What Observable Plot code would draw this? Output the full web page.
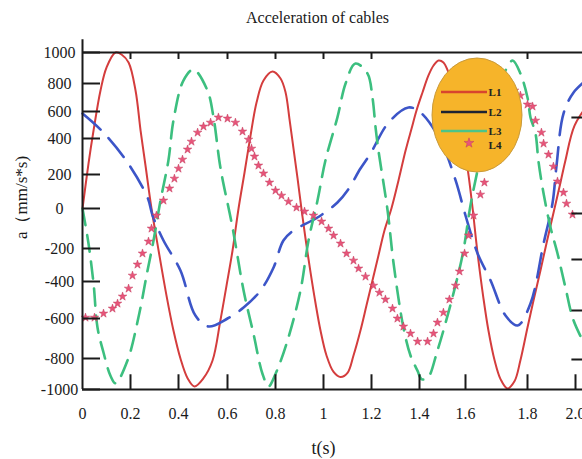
<!DOCTYPE html>
<html><head><meta charset="utf-8">
<script src="https://cdn.jsdelivr.net/npm/d3@7"></script>
<script src="https://cdn.jsdelivr.net/npm/@observablehq/plot@0.6"></script>
<style>body{margin:0;background:#fff} svg{display:block}</style>
</head><body><div id="chart"></div>
<script>
const title = "Acceleration of cables";
const xLabel = "t(s)";
const yLabel = "a（mm/s*s)";
const xTicks = [0, 0.2, 0.4, 0.6, 0.8, 1, 1.2, 1.4, 1.6, 1.8, 2.0];
const xTickLabels = ["0", "0.2", "0.4", "0.6", "0.8", "1", "1.2", "1.4", "1.6", "1.8", "2.0"];
const yTicks = [-1000, -800, -600, -400, -200, 0, 200, 400, 600, 800, 1000];
const topTicks = [0.2, 0.4, 0.6, 0.8, 1, 1.2, 1.8];
const rightTicks = [556, -25, -267, -557, -807];
const seriesNames = ["L1", "L2", "L3", "L4"];
const seriesColors = ["#d43d3d", "#3c55c8", "#3cbf7f", "#e8557a"];
const legendLineColors = ["#d8452e", "#1c2233", "#4cc488"];

const L1_t = [0,0.025,0.046,0.075,0.1,0.1375,0.1625,0.192,0.221,0.242,0.2625,0.2875,0.317,0.35,0.379,0.408,0.437,0.465,0.502,0.539,0.571,0.596,0.621,0.646,0.671,0.696,0.721,0.75,0.7875,0.821,0.842,0.858,0.875,0.892,0.908,0.925,0.946,0.967,0.9875,1.0125,1.042,1.071,1.1,1.125,1.154,1.179,1.204,1.229,1.254,1.283,1.3125,1.342,1.367,1.3875,1.413,1.439,1.461,1.483,1.504,1.526,1.548,1.57,1.591,1.61,1.623,1.639,1.658,1.674,1.694,1.713,1.735,1.758,1.777,1.8,1.825,1.854,1.879,1.9125,1.9375,1.958,1.996,2.029];
const L1_a = [0,261,459,750,903,1000,987,935,750,459,250,0,-212,-476,-660,-800,-927,-980,-927,-813,-610,-422,-212,0,211,422,664,819,877,832,736,548,344,176,0,-150,-345,-519,-660,-785,-887,-920,-893,-785,-660,-530,-394,-242,-110,0,165,333,474,607,736,852,916,948,936,871,764,607,389,194,0,-230,-492,-660,-813,-933,-993,-947,-813,-645,-503,-333,-175,0,153,278,496,664];

const L2_t = [0,0.0875,0.1875,0.271,0.292,0.3375,0.408,0.469,0.522,0.6,0.667,0.7375,0.792,0.833,0.875,0.975,1.058,1.1,1.154,1.196,1.271,1.354,1.404,1.491,1.557,1.6,1.639,1.681,1.729,1.768,1.8125,1.867,1.904,1.921,1.95,1.992,2.029];
const L2_a = [585,444,267,65,-35,-160,-333,-584,-640,-600,-541,-449,-315,-160,-110,-45,35,106,233,317,518,629,593,389,165,-35,-230,-394,-584,-635,-519,-175,29,250,585,736,839];

const L3_t = [0,0.025,0.046,0.0625,0.0875,0.117,0.1375,0.1875,0.233,0.271,0.296,0.325,0.358,0.379,0.42,0.461,0.518,0.543,0.571,0.621,0.667,0.708,0.746,0.771,0.8,0.85,0.904,0.9375,0.975,1.008,1.058,1.092,1.133,1.183,1.204,1.217,1.229,1.267,1.292,1.333,1.3625,1.392,1.409,1.435,1.478,1.522,1.565,1.591,1.616,1.642,1.674,1.703,1.729,1.752,1.777,1.8,1.8125,1.833,1.846,1.867,1.896,1.925,1.958,1.992,2.029];
const L3_a = [0,-175,-411,-645,-770,-913,-960,-813,-595,-333,-160,47,278,533,819,890,750,556,239,-95,-449,-675,-900,-980,-900,-710,-449,-160,47,278,556,800,929,865,700,481,333,-10,-291,-645,-785,-880,-933,-927,-760,-584,-376,-212,18,250,570,786,884,948,865,700,556,440,270,88,-95,-230,-432,-610,-775];

const L4_t = [0.0125,0.05,0.0875,0.125,0.146,0.167,0.192,0.2083,0.229,0.25,0.275,0.2875,0.308,0.3375,0.3625,0.383,0.4,0.4163,0.437,0.453,0.478,0.502,0.531,0.563,0.6,0.633,0.6625,0.6875,0.7,0.7125,0.729,0.75,0.775,0.8,0.825,0.854,0.8875,0.921,0.958,0.992,1.021,1.042,1.071,1.096,1.125,1.146,1.175,1.208,1.233,1.258,1.2875,1.308,1.333,1.3625,1.392,1.435,1.461,1.478,1.504,1.53,1.557,1.574,1.596,1.61,1.626,1.648,1.661,1.681,1.7,1.719,1.739,1.758,1.777,1.8,1.821,1.833,1.858,1.867,1.8875,1.908,1.925,1.95,1.9625,1.9875];
const L4_a = [-595,-595,-573,-546,-519,-481,-438,-364,-297,-230,-165,-100,-35,47,118,176,233,283,339,383,444,489,518,556,548,518,452,394,344,300,250,206,153,106,76,41,6,-15,-35,-65,-100,-135,-175,-230,-273,-321,-370,-422,-460,-497,-546,-600,-640,-675,-715,-715,-675,-620,-568,-497,-422,-339,-230,-135,-35,82,153,267,400,570,700,750,714,650,636,533,444,372,311,244,159,94,29,-30];

const rows = (ts, as) => ts.map((t, i) => ({t, a: as[i]}));
const d1 = rows(L1_t, L1_a), d2 = rows(L2_t, L2_a), d3r = rows(L3_t, L3_a), d4 = rows(L4_t, L4_a);
const xLabelRows = xTicks.map((v, i) => ({v, label: xTickLabels[i]}));

const font = "'Liberation Serif','Times New Roman',serif";
const ink = "#1a1a1a";

const chart = Plot.plot({
  width: 582, height: 459,
  margin: 0,
  style: {fontFamily: font, background: "#fff", overflow: "hidden", color: ink},
  x: {type: "linear", axis: null,
      domain: [0, 0.2, 0.4, 0.6, 0.8, 1, 1.2, 1.4, 1.6, 1.8, 2.0, 2.1],
      range: [82, 130, 178, 227, 275, 323, 371, 419, 465, 527, 575, 623]},
  y: {type: "linear", axis: null,
      domain: [-1000, -800, -600, -400, -200, 0, 200, 400, 600, 800, 1000, 1100],
      range: [389, 358, 318, 281, 248, 208, 174, 138, 111, 83, 52, 36]},
  marks: [
    Plot.line(d1, {x: "t", y: "a", stroke: seriesColors[0], strokeWidth: 2, curve: "catmull-rom"}),
    Plot.line(d2, {x: "t", y: "a", stroke: seriesColors[1], strokeWidth: 2.6, strokeDasharray: "24,12", curve: "catmull-rom"}),
    Plot.line(d3r, {x: "t", y: "a", stroke: seriesColors[2], strokeWidth: 2.6, strokeDasharray: "17,10", curve: "catmull-rom"}),
    Plot.dot(d4, {x: "t", y: "a", symbol: "star", r: 2.7, fill: seriesColors[3], stroke: "#c23a5c", strokeWidth: 0.5}),
    // frame / axes
    Plot.ruleX([0], {y1: -1000, y2: 1080, stroke: ink, strokeWidth: 2}),
    Plot.ruleY([-1000], {x1: 0, x2: 2.1, stroke: ink, strokeWidth: 2}),
    Plot.ruleY([1000], {x1: 0, x2: 2.1, stroke: ink, strokeWidth: 2}),
    Plot.ruleY(yTicks, {x1: 0, x2: 0.075, stroke: ink, strokeWidth: 2}),
    Plot.ruleX(xTicks.slice(1), {y1: -1000, y2: -905, stroke: ink, strokeWidth: 2}),
    Plot.ruleX(topTicks, {y1: 1000, y2: 955, stroke: ink, strokeWidth: 2}),
    Plot.ruleY(rightTicks, {x1: 1.985, x2: 2.1, stroke: ink, strokeWidth: 2}),
    // tick labels
    Plot.text(yTicks, {x: 0, y: d => d, text: d => String(d), textAnchor: "middle", dx: -23, fontSize: 16, fill: ink}),
    Plot.text(xLabelRows, {x: "v", y: -1000, text: "label", dy: 24, fontSize: 16, fill: ink}),
    // titles
    Plot.text([title], {frameAnchor: "top-left", dx: 317, dy: 17, text: d => d, textAnchor: "middle", lineAnchor: "middle", fontSize: 16, fill: ink}),
    Plot.text([xLabel], {frameAnchor: "top-left", dx: 323, dy: 448, text: d => d, textAnchor: "middle", lineAnchor: "middle", fontSize: 18, fill: ink}),
    Plot.text([yLabel], {frameAnchor: "top-left", dx: 21, dy: 197, text: d => d, rotate: -90, textAnchor: "middle", lineAnchor: "middle", fontSize: 17, fill: ink})
  ]
});
document.getElementById("chart").appendChild(chart);

// legend (inside the plot, on an orange ellipse)
const svg = d3.select(chart);
const lg = svg.append("g");
lg.append("ellipse").attr("cx", 477).attr("cy", 115).attr("rx", 45).attr("ry", 57)
  .attr("fill", "#f6b42a").attr("stroke", "#c99a3a").attr("stroke-width", 1);
const rowY = [92, 112, 131, 145];
seriesNames.forEach((name, i) => {
  if (i < 3) {
    lg.append("line").attr("x1", 441).attr("x2", 487).attr("y1", rowY[i]).attr("y2", rowY[i])
      .attr("stroke", legendLineColors[i]).attr("stroke-width", 2.5);
  } else {
    lg.append("path").attr("d", d3.symbol(d3.symbolStar, 30)())
      .attr("transform", `translate(469,${rowY[i] - 2})`)
      .attr("fill", seriesColors[3]).attr("stroke", "#c23a5c").attr("stroke-width", 0.5);
  }
  lg.append("text").attr("x", 495).attr("y", rowY[i]).attr("dy", "0.35em")
    .attr("font-family", font).attr("font-weight", "bold").attr("font-size", 11)
    .attr("fill", "#222").text(name);
});
</script>
</body></html>
